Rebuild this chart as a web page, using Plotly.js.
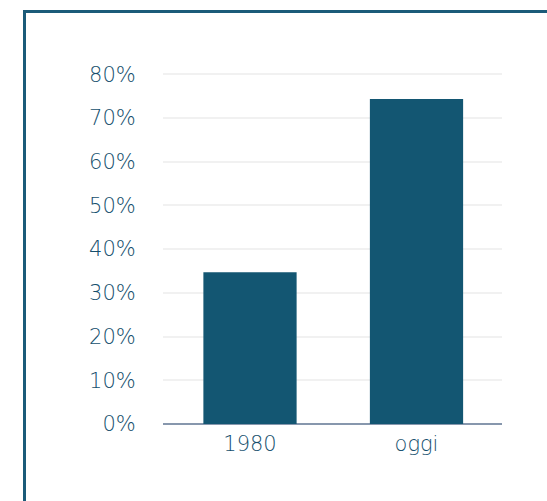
<!DOCTYPE html>
<html>
<head>
<meta charset="utf-8">
<script src="https://cdn.plot.ly/plotly-3.0.1.min.js"></script>
<style>
  html, body { margin: 0; padding: 0; background: #ffffff; overflow: hidden; }
  #frame { position: absolute; left: 23px; top: 10px; width: 600px; height: 600px;
           border-top: 3px solid #1b5b79; border-left: 3px solid #1b5b79; box-sizing: border-box; }
  #chart { position: absolute; left: 0; top: 0; width: 547px; height: 501px; }
</style>
</head>
<body>
<div id="frame"></div>
<div id="chart"></div>
<script>
const categories = ['1980', 'oggi'];
const values = [34.7, 74.3];
const yTicks = [0, 10, 20, 30, 40, 50, 60, 70, 80];

const textColor = '#154f6d';
const trace = {
  type: 'bar',
  x: categories,
  y: values,
  marker: { color: '#135672' },
  hoverinfo: 'skip'
};

const tf = { family: '"DejaVu Sans", sans-serif', size: 21, color: textColor, weight: 200 };

const layout = {
  width: 547, height: 501,
  margin: { l: 163, r: 45, t: 72, b: 77 },
  paper_bgcolor: 'rgba(0,0,0,0)',
  plot_bgcolor: 'rgba(0,0,0,0)',
  showlegend: false,
  bargap: 0.44,
  font: tf,
  xaxis: {
    type: 'category',
    range: [-0.5225, 1.5135],
    showgrid: false, showline: false, zeroline: false,
    ticks: 'outside', ticklen: 1, tickcolor: 'rgba(0,0,0,0)',
    tickfont: tf
  },
  yaxis: {
    range: [0, 80.5],
    tickvals: yTicks,
    ticktext: yTicks.map(v => v + '%'),
    showgrid: true, gridcolor: '#f1f1f1', gridwidth: 2,
    zeroline: true, zerolinecolor: '#8797ad', zerolinewidth: 2,
    showline: false,
    ticks: 'outside', ticklen: 22, tickcolor: 'rgba(0,0,0,0)',
    tickfont: tf
  }
};

Plotly.newPlot('chart', [trace], layout, { displayModeBar: false, staticPlot: true });
</script>
</body>
</html>
